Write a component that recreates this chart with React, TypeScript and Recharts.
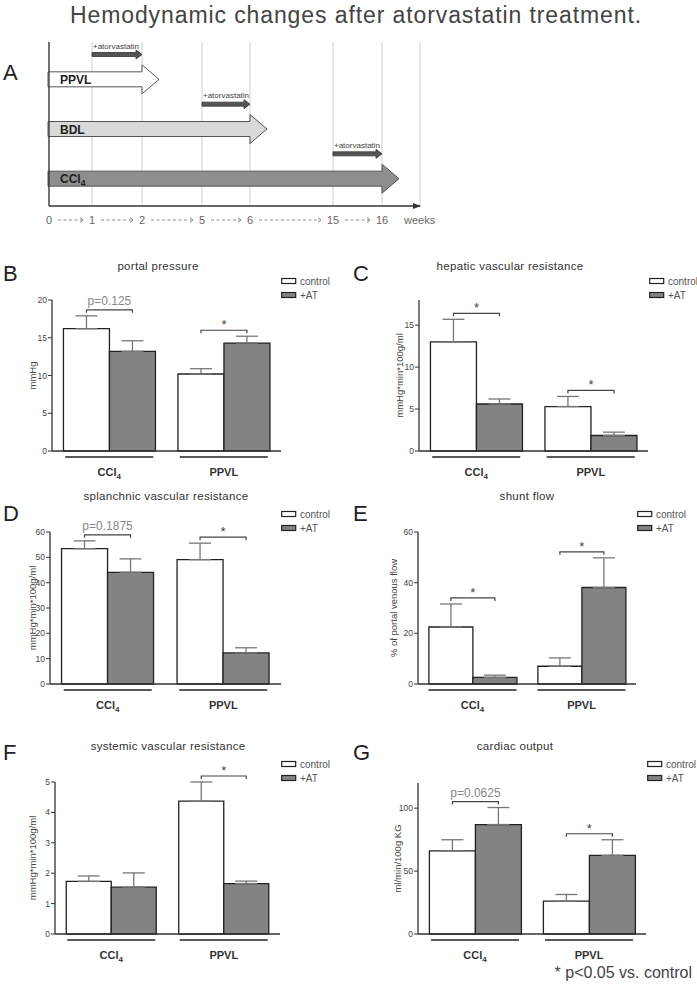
import React from "react";
import {
  Bar,
  BarChart,
  CartesianGrid,
  ErrorBar,
  LabelList,
  Legend,
  XAxis,
  YAxis,
} from "recharts";

const FONT = "'Liberation Sans', Arial, Helvetica, sans-serif";

// ---- A: study design
const WEEK_TICKS = [0, 1, 2, 5, 6, 15, 16];
const TIMELINE_ROWS = ["PPVL+AT", "PPVL", "BDL+AT", "BDL", "CCl4+AT", "CCl4"];
const TIMELINE_LABELS = ["+atorvastatin", "PPVL", "+atorvastatin", "BDL", "+atorvastatin", "CCl4"];
const TIMELINE_START = [1, 0, 5, 0, 15, 0];
const TIMELINE_END = [2, 2, 6, 6, 16, 16];

// ---- B-G: control vs +AT in both models
const GROUPS = ["CCl4", "PPVL"];
const SERIES = ["control", "+AT"];

const PP_CONTROL = [16.2, 10.2];
const PP_CONTROL_SEM = [1.7, 0.7];
const PP_AT = [13.2, 14.3];
const PP_AT_SEM = [1.4, 0.9];
const PP_SIG = ["p=0.125", "*"];

const HVR_CONTROL = [13.0, 5.3];
const HVR_CONTROL_SEM = [2.7, 1.2];
const HVR_AT = [5.6, 1.85];
const HVR_AT_SEM = [0.6, 0.4];
const HVR_SIG = ["*", "*"];

const SVR_CONTROL = [53.4, 49.1];
const SVR_CONTROL_SEM = [3.1, 6.5];
const SVR_AT = [44.1, 12.25];
const SVR_AT_SEM = [5.3, 2.05];
const SVR_SIG = ["p=0.1875", "*"];

const SHUNT_CONTROL = [22.5, 7.0];
const SHUNT_CONTROL_SEM = [9.1, 3.3];
const SHUNT_AT = [2.6, 38.1];
const SHUNT_AT_SEM = [0.9, 11.7];
const SHUNT_SIG = ["*", "*"];

const SYSVR_CONTROL = [1.73, 4.37];
const SYSVR_CONTROL_SEM = [0.18, 0.63];
const SYSVR_AT = [1.54, 1.66];
const SYSVR_AT_SEM = [0.47, 0.08];
const SYSVR_SIG = ["", "*"];

const CO_CONTROL = [66.0, 26.1];
const CO_CONTROL_SEM = [8.9, 5.3];
const CO_AT = [87.0, 62.5];
const CO_AT_SEM = [13.5, 12.4];
const CO_SIG = ["p=0.0625", "*"];

function withSub(label: string, subSize: number) {
  const m = /^(.*?)(\d+)$/.exec(label);
  if (!m) return label;
  return (
    <>
      {m[1]}
      <tspan fontSize={subSize} dy={3}>
        {m[2]}
      </tspan>
    </>
  );
}

// schematic time axis: the gaps between time points are drawn with their own lengths
const AXIS_BREAKS = [0, 1, 2, 5, 6, 15, 16, 17.2];
const AXIS_STEPS = [0, 43, 93, 153, 201, 284, 333, 371];
const TL_LEFT = 49;
const TL_RIGHT = 420;

function stageFrac(v: number) {
  let i = 0;
  while (i < AXIS_BREAKS.length - 2 && v > AXIS_BREAKS[i + 1]) i++;
  const t = (v - AXIS_BREAKS[i]) / (AXIS_BREAKS[i + 1] - AXIS_BREAKS[i]);
  const s = AXIS_STEPS[i] + t * (AXIS_STEPS[i + 1] - AXIS_STEPS[i]);
  return s / AXIS_STEPS[AXIS_STEPS.length - 1];
}

function stageScale(): any {
  let dom = [AXIS_BREAKS[0], AXIS_BREAKS[AXIS_BREAKS.length - 1]];
  let rng = [0, 1];
  const s: any = (v: number) => rng[0] + stageFrac(v) * (rng[1] - rng[0]);
  s.domain = (d?: number[]) => {
    if (d === undefined) return dom;
    dom = [...d];
    return s;
  };
  s.range = (r?: number[]) => {
    if (r === undefined) return rng;
    rng = [...r];
    return s;
  };
  s.copy = () => stageScale().domain(dom).range(rng);
  s.ticks = () => WEEK_TICKS;
  s.invert = (px: number) => {
    const f = (px - rng[0]) / (rng[1] - rng[0]);
    return f * dom[1];
  };
  return s;
}

function WeekTick(props: any) {
  const { x, y, payload } = props;
  const v = payload.value;
  const i = WEEK_TICKS.indexOf(v);
  const cy = y + 14;
  const half = (n: number) => String(n).length * 3;
  let tail = null;
  if (i >= 0 && i < WEEK_TICKS.length - 1) {
    const next = WEEK_TICKS[i + 1];
    const nx = x + (stageFrac(next) - stageFrac(v)) * (TL_RIGHT - TL_LEFT);
    const x1 = x + half(v) + 6;
    const x2 = nx - half(next) - 6;
    tail = (
      <g stroke="#8a8a8a" strokeWidth={1} fill="none">
        <line x1={x1} x2={x2 - 1} y1={cy} y2={cy} strokeDasharray="3 2.5" />
        <path d={`M${x2 - 3},${cy - 2.5}L${x2},${cy}L${x2 - 3},${cy + 2.5}`} />
      </g>
    );
  } else {
    tail = (
      <text x={x + 22} y={cy + 4} fontSize={11} fill="#666" fontFamily={FONT}>
        weeks
      </text>
    );
  }
  return (
    <g>
      <text x={x} y={cy + 4} textAnchor="middle" fontSize={11} fill="#666" fontFamily={FONT}>
        {v}
      </text>
      {tail}
    </g>
  );
}

const MODEL_FILL: Record<string, string> = { PPVL: "#ffffff", BDL: "#d9d9d9", CCl4: "#8e8e8e" };

function TimelineShape(props: any) {
  const { x, y, width, height, payload } = props;
  const i = TIMELINE_ROWS.indexOf(payload.row);
  const label = TIMELINE_LABELS[i];
  const cy = y + height / 2;
  const hx = x + width;
  if (label.startsWith("+")) {
    return (
      <g>
        <text x={x + 1} y={cy - 6} fontSize={8} fill="#444" fontFamily={FONT}>
          {label}
        </text>
        <path
          d={`M${x},${cy - 2}H${hx - 6}V${cy - 4.5}L${hx},${cy}L${hx - 6},${cy + 4.5}V${cy + 2}H${x}Z`}
          fill="#555"
          stroke="#333"
          strokeWidth={0.8}
        />
      </g>
    );
  }
  return (
    <g>
      <path
        d={`M${x - 1},${cy - 7.5}H${hx}V${cy - 14.5}L${hx + 17},${cy}L${hx},${cy + 14.5}V${cy + 7.5}H${x - 1}Z`}
        fill={MODEL_FILL[label]}
        stroke="#555"
        strokeWidth={1}
      />
      <text x={x + 11} y={cy + 4.5} fontSize={12} fontWeight="bold" fill="#222" fontFamily={FONT}>
        {withSub(label, 8.5)}
      </text>
    </g>
  );
}

function Timeline() {
  const data = TIMELINE_ROWS.map((row, i) => ({ row, span: [TIMELINE_START[i], TIMELINE_END[i]] }));
  const width = 460;
  return (
    <div style={{ position: "absolute", left: 0, top: 0 }}>
      <BarChart
        width={width}
        height={240}
        data={data}
        layout="vertical"
        margin={{ top: 42, right: width - TL_RIGHT, bottom: 4, left: TL_LEFT - 1 }}
        barCategoryGap={0}
      >
        <CartesianGrid horizontal={false} stroke="#cfcfcf" />
        <XAxis
          type="number"
          scale={stageScale()}
          domain={[AXIS_BREAKS[0], AXIS_BREAKS[AXIS_BREAKS.length - 1]]}
          ticks={WEEK_TICKS}
          interval={0}
          height={30}
          tickLine={false}
          tickSize={0}
          tickMargin={0}
          tick={<WeekTick />}
          axisLine={{ stroke: "#333", strokeWidth: 1.3, markerEnd: "url(#tl-arrow)" }}
        />
        <YAxis
          type="category"
          dataKey="row"
          width={1}
          tick={false}
          tickLine={false}
          padding={{ top: 0, bottom: 15 }}
          axisLine={{ stroke: "#333", strokeWidth: 1.3 }}
        />
        <Bar dataKey="span" shape={<TimelineShape />} isAnimationActive={false} />
      </BarChart>
    </div>
  );
}

function GroupTick(props: any) {
  const { x, y, payload } = props;
  return (
    <g>
      <line x1={x - 44} x2={x + 44} y1={y + 6} y2={y + 6} stroke="#222" strokeWidth={1.4} />
      <text x={x} y={y + 25} textAnchor="middle" fontSize={11} fontWeight="bold" fill="#333" fontFamily={FONT}>
        {withSub(payload.value, 8)}
      </text>
    </g>
  );
}

function LegendBoxes(props: any) {
  const items = [...(props.payload ?? [])].sort(
    (a: any, b: any) => SERIES.indexOf(a.value) - SERIES.indexOf(b.value),
  );
  return (
    <svg width={70} height={28} style={{ display: "block", overflow: "visible" }}>
      {items.map((it: any, i: number) => (
        <g key={i}>
          <rect
            x={0.7}
            y={2.5 + i * 14}
            width={14}
            height={5}
            fill={it.payload?.fill ?? it.color}
            stroke="#222"
            strokeWidth={1.2}
          />
          <text x={19} y={8.5 + i * 14} fontSize={10} fill="#555" fontFamily={FONT}>
            {it.value}
          </text>
        </g>
      ))}
    </svg>
  );
}

interface PanelCfg {
  letter: string;
  title: string;
  yLabel: string;
  control: number[];
  controlSem: number[];
  at: number[];
  atSem: number[];
  sig: string[];
  max: number;
  ticks: number[];
  panelX: number;
  plotLeft: number;
  plotRight: number;
  plotTop: number;
  plotBottom: number;
  labelX: number;
  legendX: number;
  legendY: number;
  titleX: number;
  titleY: number;
  letterY: number;
}

function Bracket({ p, cfg }: { p: any; cfg: PanelCfg }) {
  const i = p.index;
  const sig = cfg.sig[i];
  if (!sig) return null;
  const vb = p.viewBox ?? p;
  const ppu = vb.height / cfg.at[i];
  const base = vb.y + vb.height;
  const top = Math.max(cfg.control[i] + cfg.controlSem[i], cfg.at[i] + cfg.atSem[i]);
  const by = base - top * ppu - 6;
  const x1 = vb.x - vb.width / 2;
  const x2 = vb.x + vb.width / 2;
  const star = sig === "*";
  return (
    <g>
      <path d={`M${x1},${by + 3}V${by}H${x2}V${by + 3}`} fill="none" stroke="#444" strokeWidth={1.2} />
      <text
        x={(x1 + x2) / 2}
        y={star ? by - 1 : by - 4.5}
        textAnchor="middle"
        fontSize={star ? 13 : 12}
        fill={star ? "#444" : "#888"}
        fontFamily={FONT}
      >
        {sig}
      </text>
    </g>
  );
}

function ResultPanel({ cfg }: { cfg: PanelCfg }) {
  const chartTop = cfg.plotTop - 50;
  const width = 347;
  const height = cfg.plotBottom - chartTop + 40;
  const data = GROUPS.map((group, i) => ({
    group,
    control: cfg.control[i],
    controlErr: [0, cfg.controlSem[i]],
    at: cfg.at[i],
    atErr: [0, cfg.atSem[i]],
  }));
  const axisW = cfg.plotLeft - cfg.panelX;
  return (
    <div style={{ position: "absolute", left: cfg.panelX, top: chartTop }}>
      <BarChart
        width={width}
        height={height}
        data={data}
        margin={{ top: 50, right: cfg.panelX + width - cfg.plotRight, bottom: 10, left: 0 }}
        barGap={0}
        barCategoryGap="10%"
      >
        <XAxis
          dataKey="group"
          height={30}
          interval={0}
          tickLine={false}
          tickSize={0}
          tickMargin={0}
          tick={<GroupTick />}
          axisLine={{ stroke: "#333", strokeWidth: 1.3 }}
        />
        <YAxis
          width={axisW}
          domain={[0, cfg.max]}
          ticks={cfg.ticks}
          interval={0}
          tickSize={4}
          tickMargin={1}
          tick={{ fontSize: 8.5, fill: "#444", fontFamily: FONT }}
          tickLine={{ stroke: "#333" }}
          axisLine={{ stroke: "#333", strokeWidth: 1.3 }}
          label={{
            content: (p: any) => {
              const vb = p.viewBox ?? { x: 0, y: 50, height: cfg.plotBottom - cfg.plotTop };
              return (
                <text
                  transform={`translate(${vb.x + (cfg.labelX - cfg.panelX)},${vb.y + vb.height / 2}) rotate(-90)`}
                  textAnchor="middle"
                  dominantBaseline="central"
                  fontSize={9.5}
                  fill="#444"
                  fontFamily={FONT}
                >
                  {cfg.yLabel}
                </text>
              );
            },
          }}
        />
        <Legend
          layout="vertical"
          align="center"
          verticalAlign="middle"
          wrapperStyle={{ left: cfg.legendX - cfg.panelX, top: cfg.legendY - chartTop - 5, width: 70, height: 28 }}
          content={<LegendBoxes />}
        />
        <Bar dataKey="control" name={SERIES[0]} fill="#ffffff" stroke="#222" strokeWidth={1.3} isAnimationActive={false}>
          <ErrorBar dataKey="controlErr" direction="y" width={11} stroke="#777" strokeWidth={1.3} />
        </Bar>
        <Bar dataKey="at" name={SERIES[1]} fill="#838383" stroke="#222" strokeWidth={1.3} isAnimationActive={false}>
          <ErrorBar dataKey="atErr" direction="y" width={11} stroke="#777" strokeWidth={1.3} />
          <LabelList dataKey="at" content={(p: any) => <Bracket p={p} cfg={cfg} />} />
        </Bar>
      </BarChart>
    </div>
  );
}

const PANELS: PanelCfg[] = [
  {
    letter: "B", title: "portal pressure", yLabel: "mmHg",
    control: PP_CONTROL, controlSem: PP_CONTROL_SEM, at: PP_AT, atSem: PP_AT_SEM, sig: PP_SIG,
    max: 20, ticks: [0, 5, 10, 15, 20],
    panelX: 0, plotLeft: 52, plotRight: 281, plotTop: 300, plotBottom: 451, labelX: 32,
    legendX: 281, legendY: 281, titleX: 158, titleY: 270, letterY: 281,
  },
  {
    letter: "C", title: "hepatic vascular resistance", yLabel: "mmHg*min*100g/ml",
    control: HVR_CONTROL, controlSem: HVR_CONTROL_SEM, at: HVR_AT, atSem: HVR_AT_SEM, sig: HVR_SIG,
    max: 18, ticks: [0, 5, 10, 15],
    panelX: 350, plotLeft: 419, plotRight: 648, plotTop: 300, plotBottom: 451, labelX: 399,
    legendX: 649, legendY: 281, titleX: 510, titleY: 270, letterY: 281,
  },
  {
    letter: "D", title: "splanchnic vascular resistance", yLabel: "mmHg*min*100g/ml",
    control: SVR_CONTROL, controlSem: SVR_CONTROL_SEM, at: SVR_AT, atSem: SVR_AT_SEM, sig: SVR_SIG,
    max: 60, ticks: [0, 10, 20, 30, 40, 50, 60],
    panelX: 0, plotLeft: 50, plotRight: 281, plotTop: 532, plotBottom: 684, labelX: 32,
    legendX: 281, legendY: 514, titleX: 166, titleY: 500, letterY: 521,
  },
  {
    letter: "E", title: "shunt flow", yLabel: "% of portal venous flow",
    control: SHUNT_CONTROL, controlSem: SHUNT_CONTROL_SEM, at: SHUNT_AT, atSem: SHUNT_AT_SEM, sig: SHUNT_SIG,
    max: 60, ticks: [0, 20, 40, 60],
    panelX: 350, plotLeft: 418, plotRight: 636, plotTop: 532, plotBottom: 684, labelX: 393,
    legendX: 637, legendY: 514, titleX: 527, titleY: 500, letterY: 521,
  },
  {
    letter: "F", title: "systemic vascular resistance", yLabel: "mmHg*min*100g/ml",
    control: SYSVR_CONTROL, controlSem: SYSVR_CONTROL_SEM, at: SYSVR_AT, atSem: SYSVR_AT_SEM, sig: SYSVR_SIG,
    max: 5, ticks: [0, 1, 2, 3, 4, 5],
    panelX: 0, plotLeft: 55, plotRight: 280, plotTop: 782, plotBottom: 934, labelX: 32,
    legendX: 281, legendY: 764, titleX: 168, titleY: 750, letterY: 760,
  },
  {
    letter: "G", title: "cardiac output", yLabel: "ml/min/100g KG",
    control: CO_CONTROL, controlSem: CO_CONTROL_SEM, at: CO_AT, atSem: CO_AT_SEM, sig: CO_SIG,
    max: 120, ticks: [0, 50, 100],
    panelX: 350, plotLeft: 418, plotRight: 646, plotTop: 783, plotBottom: 934, labelX: 397,
    legendX: 647, legendY: 764, titleX: 515, titleY: 750, letterY: 760,
  },
];

export default function App() {
  return (
    <div
      style={{
        position: "absolute",
        left: 0,
        top: 0,
        width: 697,
        height: 995,
        background: "#fff",
        overflow: "hidden",
        fontFamily: FONT,
      }}
    >
      <svg width={697} height={995} style={{ position: "absolute", left: 0, top: 0 }} fontFamily={FONT}>
        <defs>
          <marker
            id="tl-arrow"
            viewBox="0 0 10 10"
            refX={9}
            refY={5}
            markerWidth={8}
            markerHeight={8}
            markerUnits="userSpaceOnUse"
            orient="auto"
          >
            <path d="M0,1L10,5L0,9Z" fill="#333" />
          </marker>
        </defs>
        <text x={356} y={23} textAnchor="middle" fontSize={23} letterSpacing={0.9} fill="#444">
          Hemodynamic changes after atorvastatin treatment.
        </text>
        <text x={3} y={80} fontSize={22} fill="#222">
          A
        </text>
        {PANELS.map((p) => (
          <g key={p.letter}>
            <text x={p.panelX + 3} y={p.letterY} fontSize={22} fill="#222">
              {p.letter}
            </text>
            <text x={p.titleX} y={p.titleY} textAnchor="middle" fontSize={11.5} fill="#333" letterSpacing={0.3}>
              {p.title}
            </text>
          </g>
        ))}
        <text x={692} y={978} textAnchor="end" fontSize={16} fill="#444">
          * p&lt;0.05 vs. control
        </text>
      </svg>
      <Timeline />
      {PANELS.map((p) => (
        <ResultPanel key={p.letter} cfg={p} />
      ))}
    </div>
  );
}
